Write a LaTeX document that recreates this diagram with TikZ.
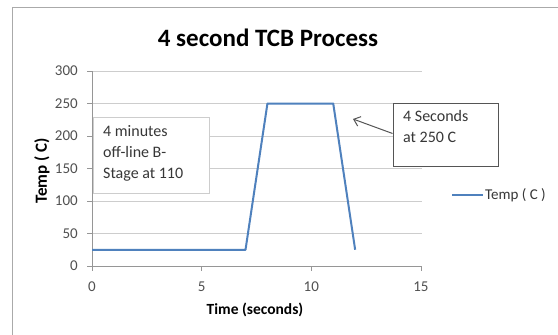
\documentclass[tikz,border=0pt]{standalone}
\usepackage{fontspec}
\setmainfont{Carlito}
\usetikzlibrary{arrows.meta}
\definecolor{gridc}{RGB}{205,205,205}
\definecolor{axisc}{RGB}{150,150,150}
\definecolor{framec}{RGB}{170,170,170}
\definecolor{tickc}{RGB}{80,80,80}
\definecolor{txtc}{RGB}{55,55,55}
\definecolor{serc}{RGB}{79,129,189}
\definecolor{boxoc}{RGB}{205,205,205}
\definecolor{boxdc}{RGB}{85,85,85}
\tikzset{
  gridline/.style={draw=gridc, line width=0.9pt},
  axisline/.style={draw=axisc, line width=0.9pt},
  ticklab/.style={inner sep=0pt, text=tickc, font=\fontsize{15}{17}\selectfont},
  axlab/.style={inner sep=0pt, text=black, font=\bfseries\fontsize{15.5}{17}\selectfont},
  series/.style={draw=serc, line width=2pt, line join=round},
  notebox/.style={draw, line width=0.9pt, fill=white, inner sep=0pt},
  notetext/.style={inner sep=0pt, align=left, text=txtc, anchor=north west, font=\fontsize{16}{21}\selectfont},
}
\begin{document}
\begin{tikzpicture}[x=1pt,y=-1pt]
\useasboundingbox (0,0) rectangle (558,335);
\fill[white] (0,0) rectangle (558,335);
% chart frame
\draw[framec, line width=0.9pt] (558,7) -- (12,7) -- (12,335);
% title
\node[inner sep=0pt, font=\bfseries\fontsize{25}{28}\selectfont] (title) at (268,38) {4 second TCB Process};
% gridlines
\foreach \v in {50,100,...,300} {
  \draw[gridline] (92,{266-0.65*\v}) -- (422,{266-0.65*\v});
  \draw[axisline] (87,{266-0.65*\v}) -- (92,{266-0.65*\v});
}
% axes
\draw[axisline] (92,71) -- (92,266);
\draw[axisline] (87,266) -- (422,266);
\foreach \t in {0,5,10,15} {
  \draw[axisline] ({92+21.93*\t},266) -- ({92+21.93*\t},271);
  \node[ticklab] (xt\t) at ({92+21.93*\t},287) {\t};
}
\foreach \v in {0,50,100,...,300} {
  \node[ticklab, anchor=east] (yt\v) at (78,{266-0.65*\v}) {\v};
}
% axis labels
\node[axlab] (xlab) at (255,310) {Time (seconds)};
\node[axlab, font=\bfseries\fontsize{17}{19}\selectfont, rotate=90] (ylab) at (42,171) {Temp ( C)};
% data
\coordinate (p0) at ({92+21.93*0},{266-0.65*25});
\coordinate (p1) at ({92+21.93*7},{266-0.65*25});
\coordinate (p2) at ({92+21.93*8},{266-0.65*250});
\coordinate (p3) at ({92+21.93*11},{266-0.65*250});
\coordinate (p4) at ({92+21.93*12},{266-0.65*25});
\draw[series] (p0) -- (p1) -- (p2) -- (p3) -- (p4);
% note box 1
\node[notebox, draw=boxoc, minimum width=116pt, minimum height=76pt] (bstage) at (151,155) {};
\node[notetext] (bstagetxt) at (103,125) {4 minutes\\off-line B-\\Stage at 110};
% note box 2
\node[notebox, draw=boxdc, minimum width=105pt, minimum height=63pt] (hold) at (445.5,134.5) {};
\node[notetext] (holdtxt) at (403,110) {4 Seconds\\at 250 C};
\coordinate (arrtip) at (353,119);
\draw[boxdc, line width=1pt, -{Straight Barb[length=6pt,width=10pt]}] (hold.west) ++(0,-1) -- (arrtip);
% legend
\coordinate (lega) at (452,195);
\coordinate (legb) at (483,195);
\draw[series] (lega) -- (legb);
\node[inner sep=0pt, anchor=west, text=txtc, font=\fontsize{15}{17}\selectfont] (legtxt) at (485,195) {Temp ( C )};
\end{tikzpicture}
\end{document}
